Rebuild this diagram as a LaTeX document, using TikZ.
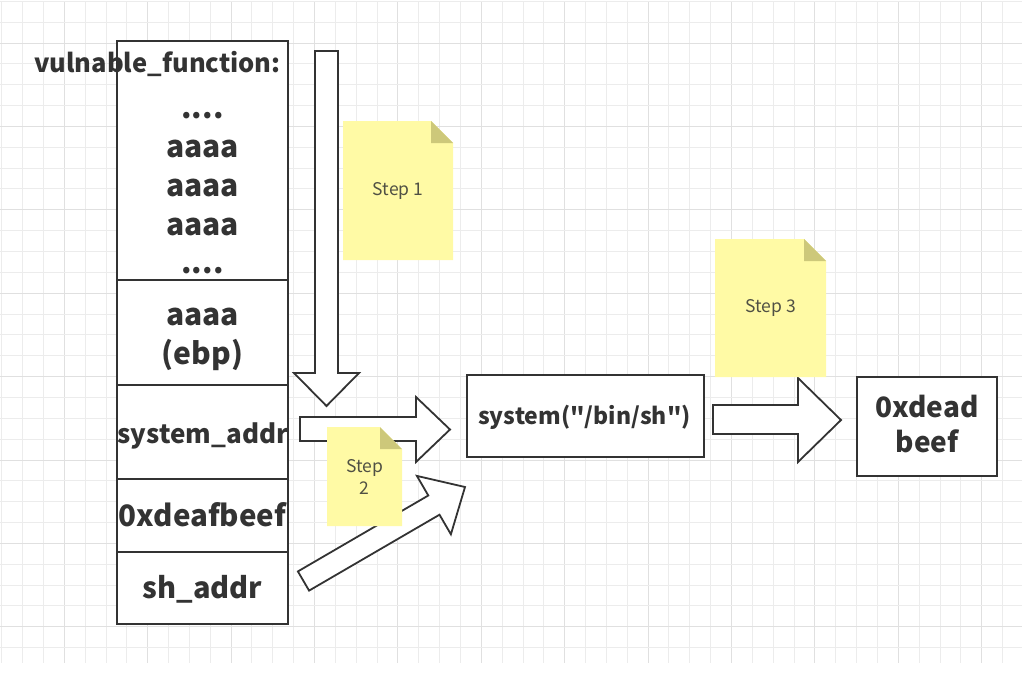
\documentclass[tikz,border=0pt]{standalone}
\usepackage{fontspec}
\setmainfont{Noto Sans CJK SC}
\newfontfamily\nf{Noto Sans CJK SC}
\definecolor{ink}{RGB}{51,51,51}
\definecolor{notefill}{RGB}{255,250,165}
\definecolor{foldfill}{RGB}{205,200,122}
\definecolor{notetextc}{RGB}{80,80,68}
\definecolor{gridminor}{RGB}{236,236,236}
\definecolor{gridmajor}{RGB}{224,224,224}
\newcommand{\fs}[2]{\fontsize{#1pt}{#2pt}\selectfont}
\newcommand{\stnote}[6]{%
  \fill[notefill] (#2,#3) -- ({#4-22},#3) -- (#4,{#3+22}) -- (#4,#5) -- (#2,#5) -- cycle;
  \fill[foldfill] ({#4-22},#3) -- ({#4-22},{#3+22}) -- (#4,{#3+22}) -- cycle;
  \node[notetext] (#1) at ({(#2+#4)/2},{(#3+#5)/2}) {#6};
}
\tikzset{
  cell/.style={draw=ink, line width=1.8pt, fill=white, minimum width=171pt, inner sep=0pt},
  stk/.style={text=ink, inner sep=0pt, anchor=base},
  box/.style={draw=ink, line width=1.8pt, fill=white, inner sep=0pt},
  barrow/.style={draw=ink, line width=1.8pt, fill=white, line join=miter},
  notetext/.style={text=notetextc, align=center, inner sep=0pt, font=\nf\fs{17.5}{22}},
}
\begin{document}
\begin{tikzpicture}[x=1pt,y=-1pt]
\useasboundingbox (0,0) rectangle (1022,673);
% grid
\foreach \k in {0,...,48} {
  \pgfmathsetmacro{\gx}{1.75+\k*20.85}
  \pgfmathtruncatemacro{\m}{mod(\k,4)}
  \ifnum\m=3 \draw[gridmajor, line width=1pt] (\gx,1.3) -- (\gx,663);
  \else \draw[gridminor, line width=1pt] (\gx,1.3) -- (\gx,663); \fi
}
\foreach \k in {0,...,31} {
  \pgfmathsetmacro{\gy}{1.3+\k*20.85}
  \pgfmathtruncatemacro{\m}{mod(\k,4)}
  \ifnum\m=2 \draw[gridmajor, line width=1pt] (0,\gy) -- (1022,\gy);
  \else \draw[gridminor, line width=1pt] (0,\gy) -- (1022,\gy); \fi
}
% stack cells
\node[cell, minimum height=239pt] (c1) at (202.5,160.5) {};
\node[cell, minimum height=105pt] (c2) at (202.5,332.5) {};
\node[cell, minimum height=94pt]  (c3) at (202.5,432) {};
\node[cell, minimum height=73pt]  (c4) at (202.5,515.5) {};
\node[cell, minimum height=72pt]  (c5) at (202.5,588) {};
% stack texts
\node[stk, font=\nf\bfseries\fs{25.5}{30}] (vf) at (157.5,72) {vulnable\_function:};
\node[stk, font=\nf\bfseries\fs{30}{39}] (t1) at (202.5,118) {....};
\node[stk, font=\nf\bfseries\fs{30}{39}] (t2) at (202.5,157) {aaaa};
\node[stk, font=\nf\bfseries\fs{30}{39}] (t3) at (202.5,196) {aaaa};
\node[stk, font=\nf\bfseries\fs{30}{39}] (t4) at (202.5,235) {aaaa};
\node[stk, font=\nf\bfseries\fs{30}{39}] (t5) at (202.5,273) {....};
\node[stk, font=\nf\bfseries\fs{30}{39}] (e1) at (202.5,325) {aaaa};
\node[stk, font=\nf\bfseries\fs{30}{39}] (e2) at (202.5,364) {(ebp)};
\node[stk, font=\nf\bfseries\fs{26}{32}] (sa) at (203,443) {system\_addr};
\node[stk, font=\nf\bfseries\fs{29.5}{36}] (db) at (202.5,526) {0xdeafbeef};
\node[stk, font=\nf\bfseries\fs{29}{36}] (sh) at (202.5,598) {sh\_addr};
% right boxes
\node[box, minimum width=237pt, minimum height=82pt] (sys) at (585.5,416) {};
\node[stk, font=\nf\bfseries\fs{23}{28}] (syst) at (584.5,424) {system("/bin/sh")};
\node[box, minimum width=140pt, minimum height=99pt] (dead) at (927,426.5) {};
\node[stk, font=\nf\bfseries\fs{28}{35}] (dead1) at (927,417.7) {0xdead};
\node[stk, font=\nf\bfseries\fs{28}{35}] (dead2) at (927,452.7) {beef};
% block arrows
\draw[barrow] (315,51) -- (338,51) -- (338,373) -- (359,373) -- (326.5,406) -- (294,373) -- (315,373) -- cycle;
\draw[barrow] (300,417) -- (416,417) -- (416,397) -- (450,429.5) -- (416,462) -- (416,441) -- (300,441) -- cycle;
\draw[barrow] (713,405) -- (798,405) -- (798,378) -- (841,420) -- (798,462) -- (798,434) -- (713,434) -- cycle;
\draw[barrow] (309.1,590.6) -- (297.9,571.4) -- (428.3,495.5) -- (416.9,475.9) -- (465,487) -- (450.9,534.3) -- (439.5,514.7) -- cycle;
% sticky notes
\stnote{n1}{343}{121}{453}{260}{Step 1}
\stnote{n2}{327}{427}{402}{526}{Step\\2}
\stnote{n3}{715}{239}{826}{377}{Step 3}
\end{tikzpicture}
\end{document}
